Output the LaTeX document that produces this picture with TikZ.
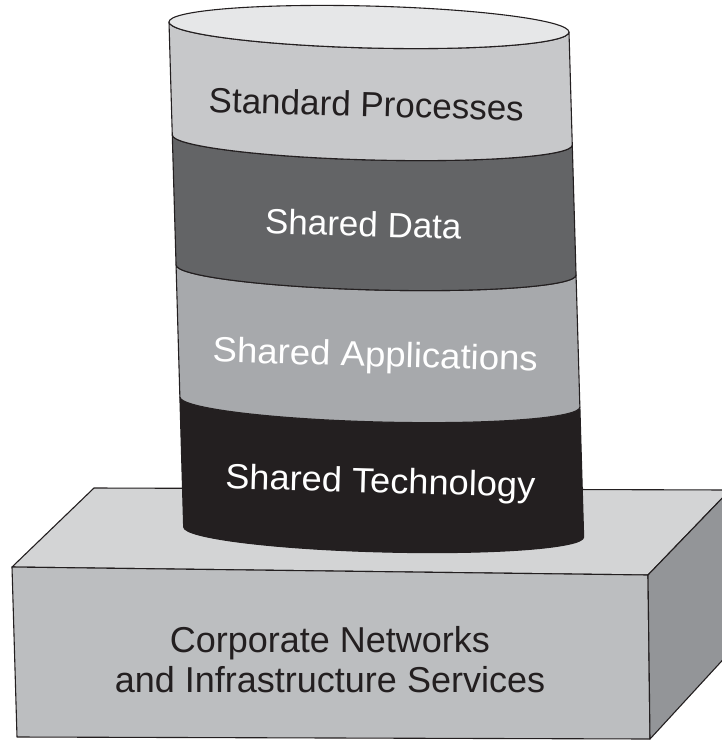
\documentclass[tikz,border=0pt]{standalone}
\usepackage{fontspec}
\setmainfont{Liberation Sans}
\definecolor{ink}{HTML}{231F20}
\definecolor{topc}{HTML}{E6E7E8}
\definecolor{stdc}{HTML}{C7C8CA}
\definecolor{datac}{HTML}{636466}
\definecolor{appc}{HTML}{A7A9AC}
\definecolor{techc}{HTML}{231F20}
\definecolor{boxtop}{HTML}{D3D4D5}
\definecolor{boxfront}{HTML}{BCBEC0}
\definecolor{boxside}{HTML}{939598}
\begin{document}
\begin{tikzpicture}[x=1pt,y=-1pt,line join=round,
  outl/.style={draw=ink,line width=1.1pt},
  lbl/.style={font=\fontsize{35}{42}\selectfont,inner sep=0pt,anchor=base,rotate=-1.6},
  blbl/.style={font=\fontsize{36}{43}\selectfont,inner sep=0pt,anchor=base,text=ink},
  lo/.style={x radius=200pt,y radius=20pt}]
\useasboundingbox (0,0) rectangle (722,740);
\clip (0,0) rectangle (722,740);
% base box
\coordinate (A) at (94,488);
\coordinate (B) at (730,490);
\coordinate (C) at (12,567);
\coordinate (D) at (648,575);
\coordinate (E) at (17,737);
\coordinate (F) at (650,739);
\coordinate (G) at (730,652);
\path[fill=boxtop,outl] (A) -- (B) -- (D) -- (C) -- cycle;
\path[fill=boxfront,outl] (C) -- (D) -- (F) -- (E) -- cycle;
\path[fill=boxside,outl] (D) -- (B) -- (G) -- (F) -- cycle;
% cylinder
\begin{scope}[cm={1,-0.025,-0.029,1,(169pt,-22pt)}]
  \path[fill=techc,outl] (0,375) arc[start angle=180,end angle=360,lo] -- (400,505) arc[start angle=0,end angle=-180,lo] -- cycle;
  \path[fill=appc,outl] (0,243) arc[start angle=180,end angle=360,lo] -- (400,375) arc[start angle=0,end angle=-180,lo] -- cycle;
  \path[fill=datac,outl] (0,113) arc[start angle=180,end angle=360,lo] -- (400,243) arc[start angle=0,end angle=-180,lo] -- cycle;
  \path[fill=stdc,outl] (0,0) arc[start angle=180,end angle=360,x radius=200pt,y radius=21pt] -- (400,113) arc[start angle=0,end angle=-180,lo] -- cycle;
  \path[fill=topc,outl] (200,0) ellipse[x radius=200pt,y radius=21pt];
\end{scope}
% labels
\node[lbl,text=ink] (std) at (366,116.5) {Standard Processes};
\node[lbl,text=white] (data) at (363,236.5) {Shared Data};
\node[lbl,text=white,xscale=1.045] (apps) at (375,366.5) {Shared Applications};
\node[lbl,text=white,xscale=1.035] (tech) at (380,493) {Shared Technology};
\node[blbl] (corp1) at (330,652) {Corporate Networks};
\node[blbl] (corp2) at (330,692) {and Infrastructure Services};
\end{tikzpicture}
\end{document}
